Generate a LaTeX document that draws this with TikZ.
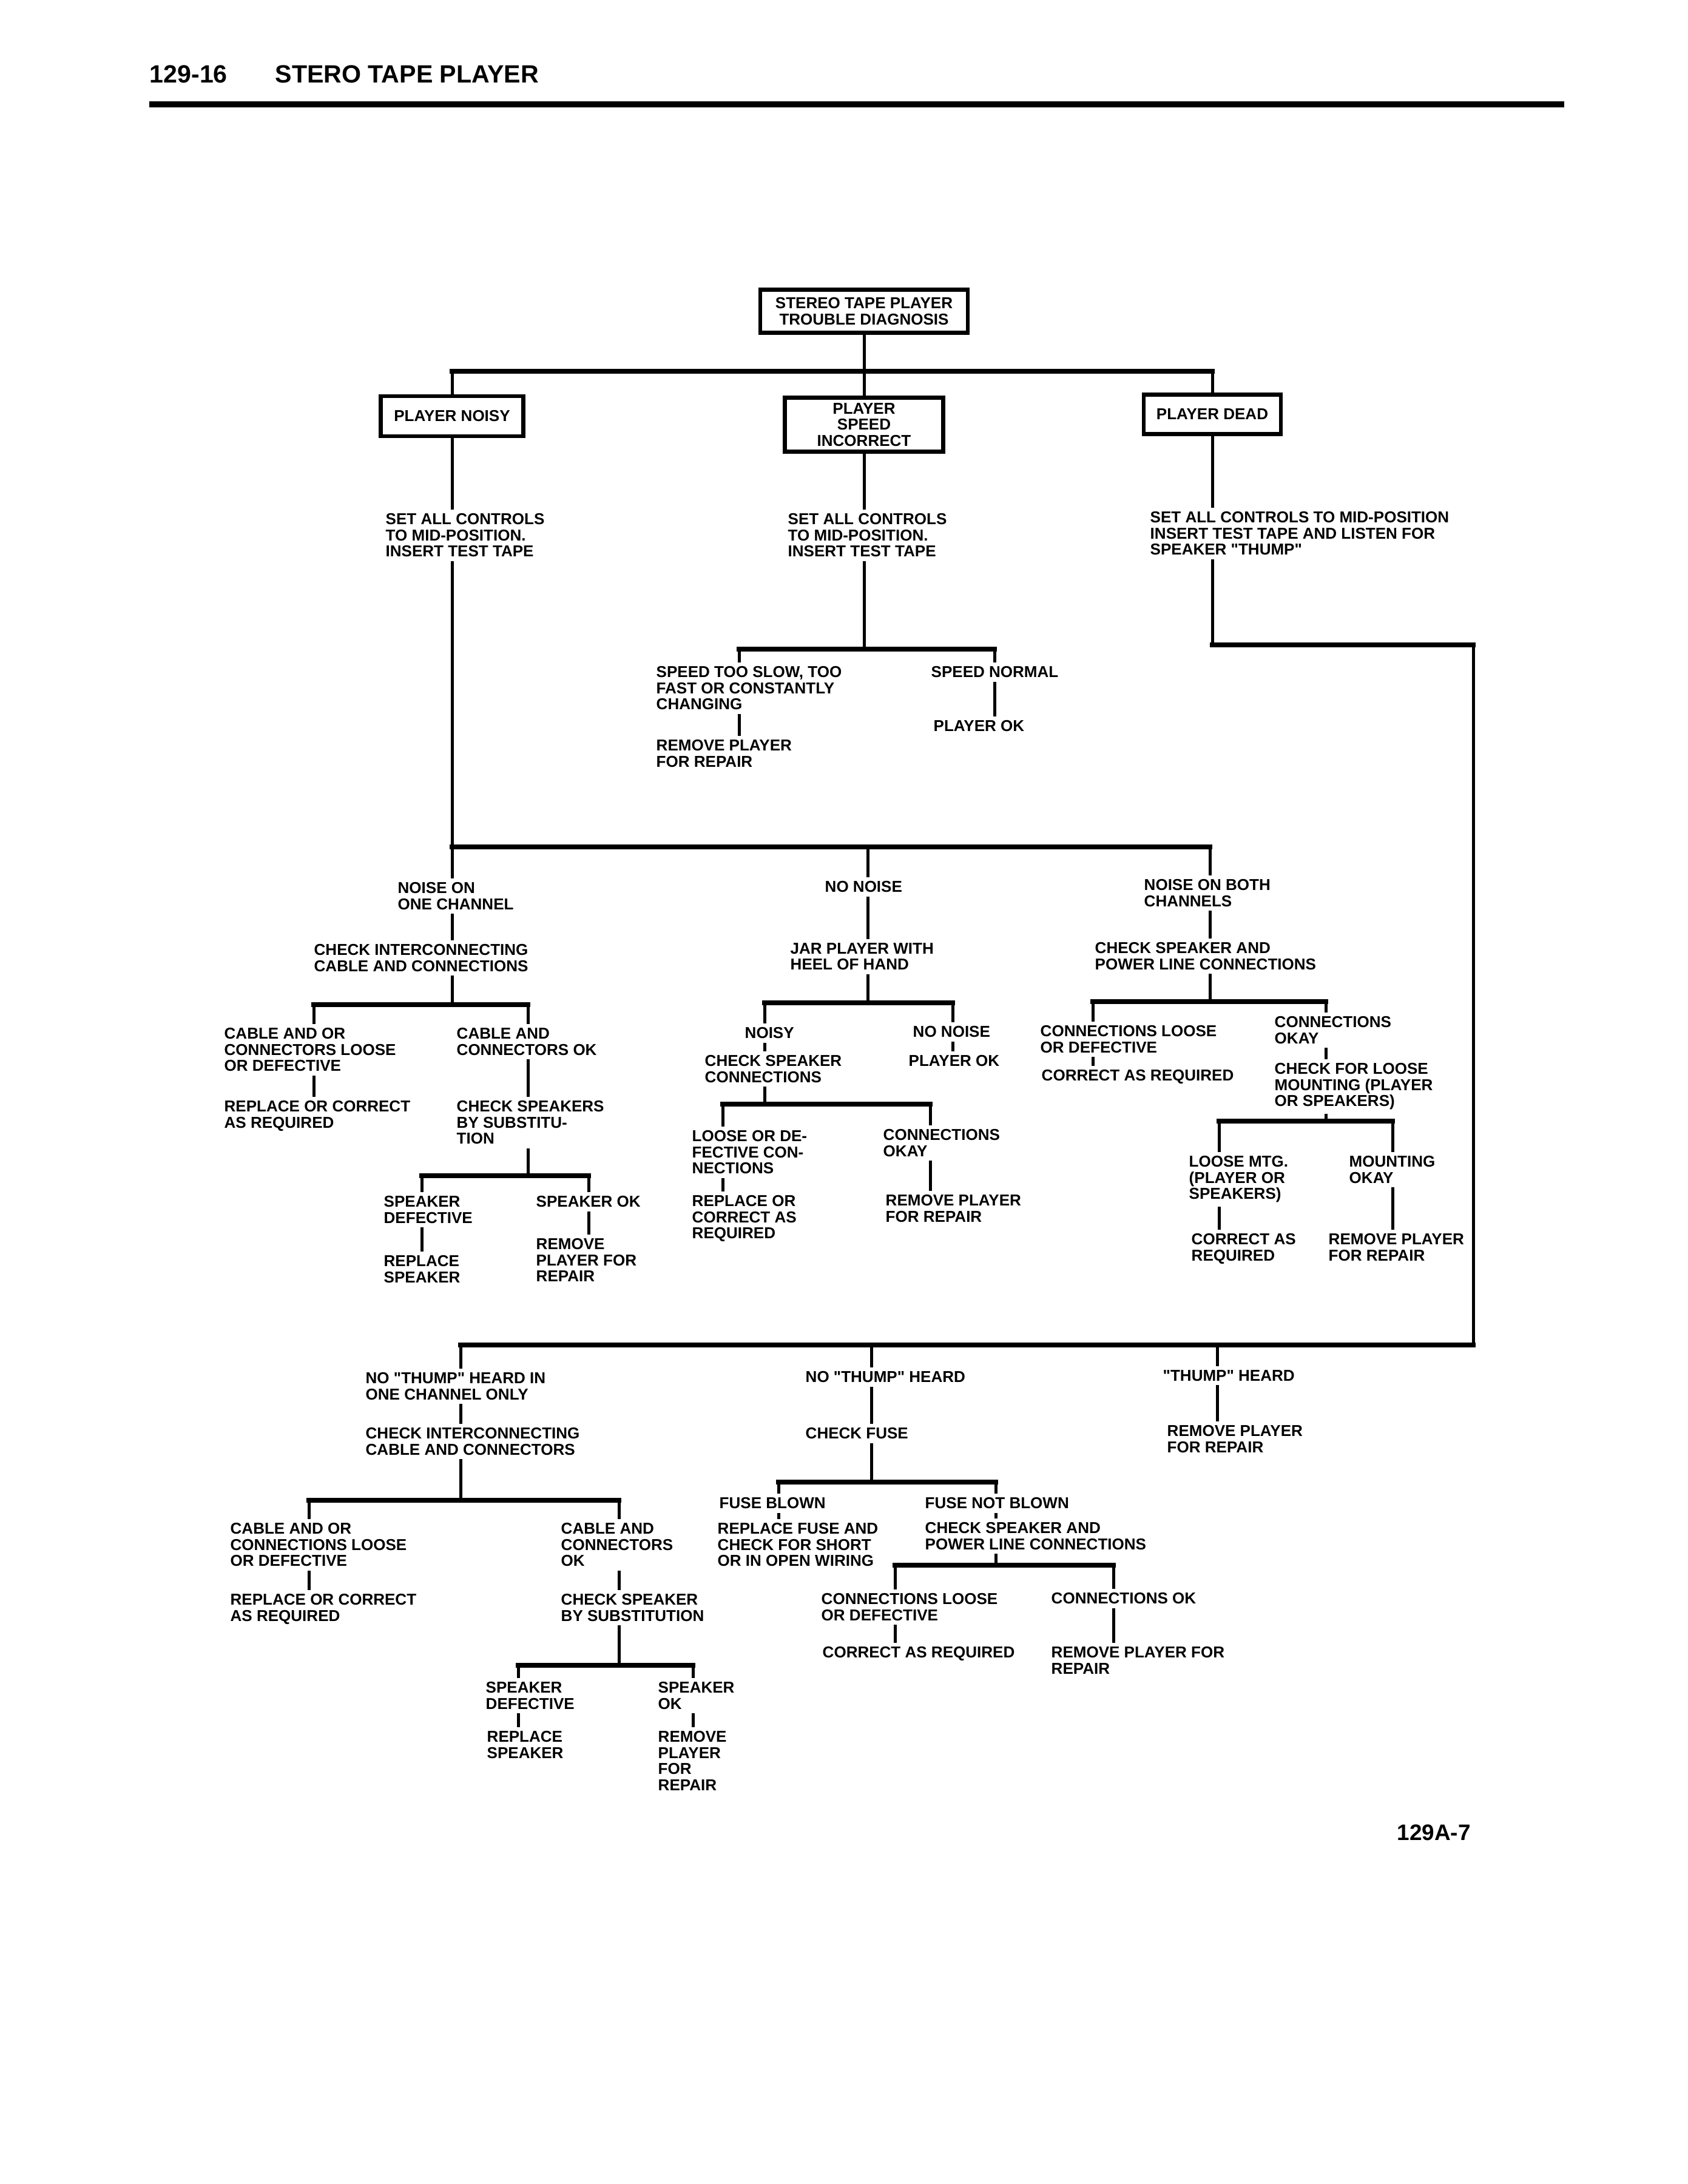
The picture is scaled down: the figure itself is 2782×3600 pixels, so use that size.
\documentclass[tikz,border=0pt]{standalone}
\usepackage{fontspec}
\setmainfont{Liberation Sans}
\usepackage{tikz}
\newcommand{\chartfont}{\fontsize{7.4}{7.57}\selectfont\bfseries}
\newcommand{\thump}{\textquotedbl THUMP\textquotedbl}

\begin{document}
\begin{tikzpicture}[x=0.01cm,y=-0.01cm,
        box/.style={draw,line width=0.065cm,align=center,inner sep=0pt,font=\chartfont},
        txt/.style={anchor=north west,align=left,inner sep=0.06cm,
                    xshift=-0.06cm,yshift=0.153cm,font=\chartfont},
        ln/.style={line width=0.05cm},
        bus/.style={line width=0.075cm,line cap=rect},
        hd/.style={anchor=base west,inner sep=0pt,font=\fontsize{11.7}{14}\selectfont\bfseries}
      ]
        \useasboundingbox (0,0) rectangle (2782,3600);
        \node[hd] (pg) at (246,137) {129-16};
        \node[hd] (ttl) at (453,137) {STERO TAPE PLAYER};
        \draw[line width=0.1cm] (246,172) -- (2578,172);
        \node[hd,font=\fontsize{10.5}{12}\selectfont\bfseries] (ft) at (2302,3033) {129A-7};

        \node[box,minimum width=3.42cm,minimum height=0.71cm] (T) at (1424,513) {STEREO TAPE PLAYER\\TROUBLE DIAGNOSIS};
        \node[box,minimum width=2.35cm,minimum height=0.66cm] (N) at (745,686) {PLAYER NOISY};
        \node[box,minimum width=2.61cm,minimum height=0.89cm] (S) at (1424,700) {PLAYER\\SPEED\\INCORRECT};
        \node[box,minimum width=2.26cm,minimum height=0.65cm] (D) at (1998,683) {PLAYER DEAD};

        \node[txt] (setN) at (635,855) {SET ALL CONTROLS\\TO MID-POSITION.\\INSERT TEST TAPE};
        \node[txt] (setS) at (1298,855) {SET ALL CONTROLS\\TO MID-POSITION.\\INSERT TEST TAPE};
        \node[txt] (setD) at (1895,852) {SET ALL CONTROLS TO MID-POSITION\\INSERT TEST TAPE AND LISTEN FOR\\SPEAKER \thump};

        \node[txt] (slow) at (1081,1107) {SPEED TOO SLOW, TOO\\FAST OR CONSTANTLY\\CHANGING};
        \node[txt] (remS) at (1081,1228) {REMOVE PLAYER\\FOR REPAIR};
        \node[txt] (normal) at (1534,1107) {SPEED NORMAL};
        \node[txt] (okS) at (1538,1196) {PLAYER OK};

        \node[txt] (one) at (655,1463) {NOISE ON\\ONE CHANNEL};
        \node[txt] (chkI) at (517,1565) {CHECK INTERCONNECTING\\CABLE AND CONNECTIONS};
        \node[txt] (cabL) at (369,1703) {CABLE AND OR\\CONNECTORS LOOSE\\OR DEFECTIVE};
        \node[txt] (repL) at (369,1823) {REPLACE OR CORRECT\\AS REQUIRED};
        \node[txt] (cabOK) at (752,1703) {CABLE AND\\CONNECTORS OK};
        \node[txt] (chkSub) at (752,1823) {CHECK SPEAKERS\\BY SUBSTITU-\\TION};
        \node[txt] (spkD) at (632,1980) {SPEAKER\\DEFECTIVE};
        \node[txt] (repSpk) at (632,2078) {REPLACE\\SPEAKER};
        \node[txt] (spkOK) at (883,1980) {SPEAKER OK};
        \node[txt] (remP1) at (883,2050) {REMOVE\\PLAYER FOR\\REPAIR};

        \node[txt] (nono) at (1359,1461) {NO NOISE};
        \node[txt] (jar) at (1302,1563) {JAR PLAYER WITH\\HEEL OF HAND};
        \node[txt] (noisy) at (1227,1702) {NOISY};
        \node[txt] (chkSC) at (1161,1748) {CHECK SPEAKER\\CONNECTIONS};
        \node[txt] (loose) at (1140,1872) {LOOSE OR DE-\\FECTIVE CON-\\NECTIONS};
        \node[txt] (repC) at (1140,1979) {REPLACE OR\\CORRECT AS\\REQUIRED};
        \node[txt] (conOK) at (1455,1870) {CONNECTIONS\\OKAY};
        \node[txt] (remP2) at (1459,1978) {REMOVE PLAYER\\FOR REPAIR};
        \node[txt] (nono2) at (1504,1700) {NO NOISE};
        \node[txt] (plOK) at (1497,1748) {PLAYER OK};

        \node[txt] (both) at (1885,1458) {NOISE ON BOTH\\CHANNELS};
        \node[txt] (chkSP) at (1804,1562) {CHECK SPEAKER AND\\POWER LINE CONNECTIONS};
        \node[txt] (conL) at (1714,1699) {CONNECTIONS LOOSE\\OR DEFECTIVE};
        \node[txt] (corr) at (1716,1772) {CORRECT AS REQUIRED};
        \node[txt] (conOK2) at (2100,1684) {CONNECTIONS\\OKAY};
        \node[txt] (chkM) at (2100,1761) {CHECK FOR LOOSE\\MOUNTING (PLAYER\\OR SPEAKERS)};
        \node[txt] (lmtg) at (1959,1914) {LOOSE MTG.\\(PLAYER OR\\SPEAKERS)};
        \node[txt] (corr2) at (1963,2042) {CORRECT AS\\REQUIRED};
        \node[txt] (mok) at (2223,1914) {MOUNTING\\OKAY};
        \node[txt] (remP3) at (2189,2042) {REMOVE PLAYER\\FOR REPAIR};

        \node[txt] (noth1) at (602,2271) {NO \thump{} HEARD IN\\ONE CHANNEL ONLY};
        \node[txt] (chkIC) at (602,2362) {CHECK INTERCONNECTING\\CABLE AND CONNECTORS};
        \node[txt] (cabL2) at (379,2519) {CABLE AND OR\\CONNECTIONS LOOSE\\OR DEFECTIVE};
        \node[txt] (repL2) at (379,2636) {REPLACE OR CORRECT\\AS REQUIRED};
        \node[txt] (cabOK2) at (924,2519) {CABLE AND\\CONNECTORS\\OK};
        \node[txt] (chkSub2) at (924,2636) {CHECK SPEAKER\\BY SUBSTITUTION};
        \node[txt] (spkD2) at (800,2781) {SPEAKER\\DEFECTIVE};
        \node[txt] (repSpk2) at (802,2862) {REPLACE\\SPEAKER};
        \node[txt] (spkOK2) at (1084,2781) {SPEAKER\\OK};
        \node[txt] (remP4) at (1084,2862) {REMOVE\\PLAYER\\FOR\\REPAIR};

        \node[txt] (noth2) at (1327,2269) {NO \thump{} HEARD};
        \node[txt] (chkF) at (1327,2362) {CHECK FUSE};
        \node[txt] (fb) at (1185,2477) {FUSE BLOWN};
        \node[txt] (repF) at (1182,2519) {REPLACE FUSE AND\\CHECK FOR SHORT\\OR IN OPEN WIRING};
        \node[txt] (fnb) at (1524,2477) {FUSE NOT BLOWN};
        \node[txt] (chkSP2) at (1524,2518) {CHECK SPEAKER AND\\POWER LINE CONNECTIONS};
        \node[txt] (conL2) at (1353,2635) {CONNECTIONS LOOSE\\OR DEFECTIVE};
        \node[txt] (corr3) at (1355,2723) {CORRECT AS REQUIRED};
        \node[txt] (conOK3) at (1732,2634) {CONNECTIONS OK};
        \node[txt] (remP5) at (1732,2723) {REMOVE PLAYER FOR\\REPAIR};

        \node[txt] (thump) at (1916,2267) {\thump{} HEARD};
        \node[txt] (remP6) at (1923,2358) {REMOVE PLAYER\\FOR REPAIR};

        \coordinate (j1a) at (745,612);   \coordinate (j1c) at (1998,612);
        \coordinate (j4a) at (1218,1070); \coordinate (j4b) at (1424,1070); \coordinate (j4c) at (1639,1070);
        \coordinate (r1) at (1998,1063);  \coordinate (r2) at (2428,1063);  \coordinate (r3) at (2428,2217);
        \coordinate (j2a) at (745,1396);  \coordinate (j2b) at (1430,1396); \coordinate (j2c) at (1994,1396);
        \coordinate (j5a) at (517,1656);  \coordinate (j5b) at (745,1656);  \coordinate (j5c) at (870,1656);
        \coordinate (j6a) at (695,1938);  \coordinate (j6b) at (870,1938);  \coordinate (j6c) at (970,1938);
        \coordinate (j7a) at (1260,1653); \coordinate (j7b) at (1430,1653); \coordinate (j7c) at (1570,1653);
        \coordinate (j8a) at (1191,1820); \coordinate (j8b) at (1260,1820); \coordinate (j8c) at (1533,1820);
        \coordinate (j9a) at (1801,1651); \coordinate (j9b) at (1994,1651); \coordinate (j9c) at (2185,1651);
        \coordinate (j10a) at (2009,1848); \coordinate (j10b) at (2185,1848); \coordinate (j10c) at (2295,1848);
        \coordinate (j3a) at (759,2217);  \coordinate (j3b) at (1436,2217); \coordinate (j3c) at (2006,2217);
        \coordinate (j11a) at (509,2473); \coordinate (j11b) at (759,2473); \coordinate (j11c) at (1020,2473);
        \coordinate (j12a) at (854,2745); \coordinate (j12b) at (1020,2745); \coordinate (j12c) at (1142,2745);
        \coordinate (j13a) at (1283,2443); \coordinate (j13b) at (1436,2443); \coordinate (j13c) at (1641,2443);
        \coordinate (j14a) at (1475,2580); \coordinate (j14b) at (1641,2580); \coordinate (j14c) at (1835,2580);

        \draw[ln] (T) -- (S);
        \draw[bus] (j1a) -- (j1c);
        \draw[ln] (j1a) -- (N);
        \draw[ln] (j1c) -- (D);
        \draw[ln] (N) -- (N |- setN.north);
        \draw[ln] (S) -- (S |- setS.north);
        \draw[ln] (D) -- (D |- setD.north);

        \draw[ln] (S |- setS.south) -- (j4b);
        \draw[bus] (j4a) -- (j4c);
        \draw[ln] (j4a) -- (j4a |- slow.north);
        \draw[ln] (j4c) -- (j4c |- normal.north);
        \draw[ln] (slow.south -| j4a) -- (j4a |- remS.north);
        \draw[ln] (normal.south -| j4c) -- (j4c |- okS.north);

        \draw[ln] (D |- setD.south) -- (r1);
        \draw[bus] (r1) -- (r2);
        \draw[ln] (r2) -- (r3);
        \draw[bus] (r3) -- (j3a);

        \draw[ln] (N |- setN.south) -- (j2a);
        \draw[bus] (j2a) -- (j2c);
        \draw[ln] (j2a) -- (j2a |- one.north);
        \draw[ln] (j2b) -- (j2b |- nono.north);
        \draw[ln] (j2c) -- (j2c |- both.north);

        \draw[ln] (one.south -| j2a) -- (j2a |- chkI.north);
        \draw[ln] (chkI.south -| j5b) -- (j5b);
        \draw[bus] (j5a) -- (j5c);
        \draw[ln] (j5a) -- (j5a |- cabL.north);
        \draw[ln] (j5c) -- (j5c |- cabOK.north);
        \draw[ln] (cabL.south -| j5a) -- (j5a |- repL.north);
        \draw[ln] (cabOK.south -| j5c) -- (j5c |- chkSub.north);
        \draw[ln] (chkSub.south -| j6b) -- (j6b);
        \draw[bus] (j6a) -- (j6c);
        \draw[ln] (j6a) -- (j6a |- spkD.north);
        \draw[ln] (j6c) -- (j6c |- spkOK.north);
        \draw[ln] (spkD.south -| j6a) -- (j6a |- repSpk.north);
        \draw[ln] (spkOK.south -| j6c) -- (j6c |- remP1.north);

        \draw[ln] (nono.south -| j2b) -- (j2b |- jar.north);
        \draw[ln] (jar.south -| j7b) -- (j7b);
        \draw[bus] (j7a) -- (j7c);
        \draw[ln] (j7a) -- (j7a |- noisy.north);
        \draw[ln] (j7c) -- (j7c |- nono2.north);
        \draw[ln] (noisy.south -| j7a) -- (j7a |- chkSC.north);
        \draw[ln] (nono2.south -| j7c) -- (j7c |- plOK.north);
        \draw[ln] (chkSC.south -| j8b) -- (j8b);
        \draw[bus] (j8a) -- (j8c);
        \draw[ln] (j8a) -- (j8a |- loose.north);
        \draw[ln] (j8c) -- (j8c |- conOK.north);
        \draw[ln] (loose.south -| j8a) -- (j8a |- repC.north);
        \draw[ln] (conOK.south -| j8c) -- (j8c |- remP2.north);

        \draw[ln] (both.south -| j2c) -- (j2c |- chkSP.north);
        \draw[ln] (chkSP.south -| j9b) -- (j9b);
        \draw[bus] (j9a) -- (j9c);
        \draw[ln] (j9a) -- (j9a |- conL.north);
        \draw[ln] (j9c) -- (j9c |- conOK2.north);
        \draw[ln] (conL.south -| j9a) -- (j9a |- corr.north);
        \draw[ln] (conOK2.south -| j9c) -- (j9c |- chkM.north);
        \draw[ln] (chkM.south -| j10b) -- (j10b);
        \draw[bus] (j10a) -- (j10c);
        \draw[ln] (j10a) -- (j10a |- lmtg.north);
        \draw[ln] (j10c) -- (j10c |- mok.north);
        \draw[ln] (lmtg.south -| j10a) -- (j10a |- corr2.north);
        \draw[ln] (mok.south -| j10c) -- (j10c |- remP3.north);

        \draw[ln] (j3a) -- (j3a |- noth1.north);
        \draw[ln] (j3b) -- (j3b |- noth2.north);
        \draw[ln] (j3c) -- (j3c |- thump.north);
        \draw[ln] (thump.south -| j3c) -- (j3c |- remP6.north);

        \draw[ln] (noth1.south -| j3a) -- (j3a |- chkIC.north);
        \draw[ln] (chkIC.south -| j11b) -- (j11b);
        \draw[bus] (j11a) -- (j11c);
        \draw[ln] (j11a) -- (j11a |- cabL2.north);
        \draw[ln] (j11c) -- (j11c |- cabOK2.north);
        \draw[ln] (cabL2.south -| j11a) -- (j11a |- repL2.north);
        \draw[ln] (cabOK2.south -| j11c) -- (j11c |- chkSub2.north);
        \draw[ln] (chkSub2.south -| j12b) -- (j12b);
        \draw[bus] (j12a) -- (j12c);
        \draw[ln] (j12a) -- (j12a |- spkD2.north);
        \draw[ln] (j12c) -- (j12c |- spkOK2.north);
        \draw[ln] (spkD2.south -| j12a) -- (j12a |- repSpk2.north);
        \draw[ln] (spkOK2.south -| j12c) -- (j12c |- remP4.north);

        \draw[ln] (noth2.south -| j3b) -- (j3b |- chkF.north);
        \draw[ln] (chkF.south -| j13b) -- (j13b);
        \draw[bus] (j13a) -- (j13c);
        \draw[ln] (j13a) -- (j13a |- fb.north);
        \draw[ln] (j13c) -- (j13c |- fnb.north);
        \draw[ln] (fb.south -| j13a) -- (j13a |- repF.north);
        \draw[ln] (fnb.south -| j13c) -- (j13c |- chkSP2.north);
        \draw[ln] (chkSP2.south -| j14b) -- (j14b);
        \draw[bus] (j14a) -- (j14c);
        \draw[ln] (j14a) -- (j14a |- conL2.north);
        \draw[ln] (j14c) -- (j14c |- conOK3.north);
        \draw[ln] (conL2.south -| j14a) -- (j14a |- corr3.north);
        \draw[ln] (conOK3.south -| j14c) -- (j14c |- remP5.north);
      \end{tikzpicture}
\end{document}
